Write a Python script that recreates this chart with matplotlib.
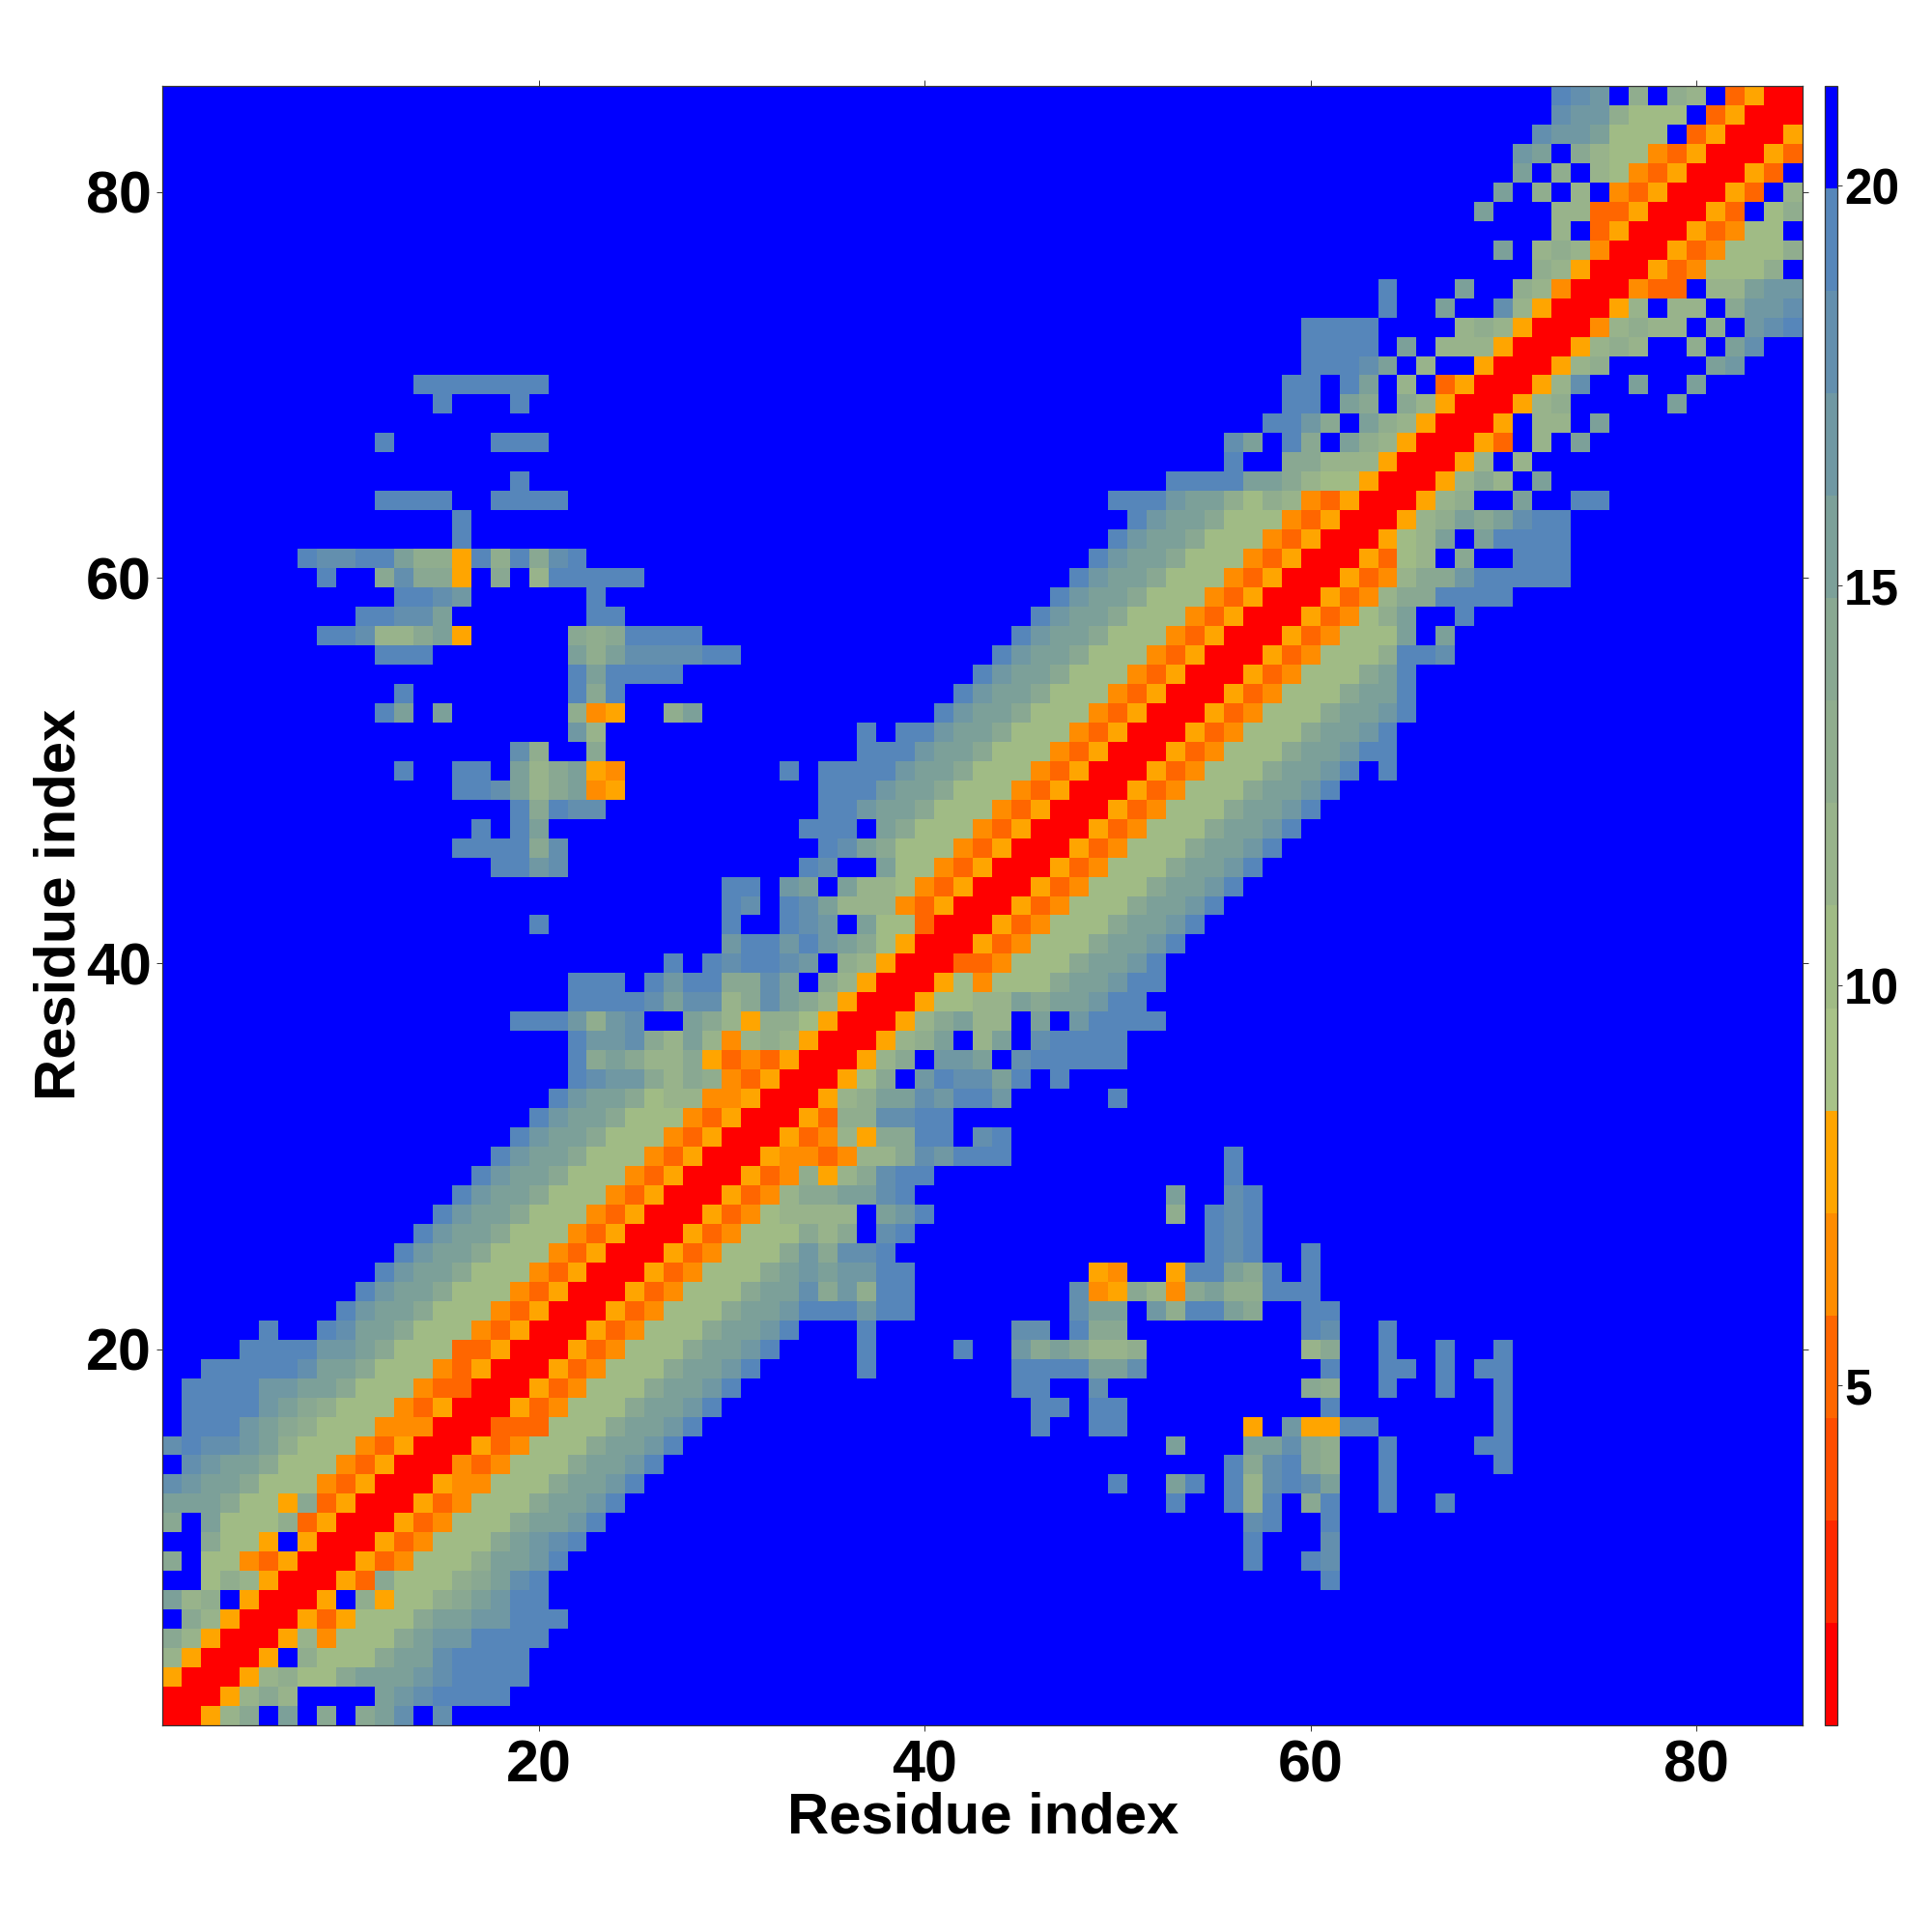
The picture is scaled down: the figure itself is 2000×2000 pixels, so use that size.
import numpy as np
import matplotlib
matplotlib.use("Agg")
import matplotlib.pyplot as plt
from matplotlib.colors import ListedColormap, BoundaryNorm

# Distance-class codes: hex digit = colour class, F = beyond 20 (blue)
generic = "00534777ABBCE"
band_rows = [
    "0058AFBFAFABDFD", "0058A8FFFFBCDEEEE", "0058977ABBBCDEEEE", "005F9777ABBDEEEE",
    "00584777ABCCEEEE", "00535777ABBCCEEE", "005F95779ABCEE", "0053A7779ABDE",
    "005347779BBCE", "00534777ABCDE", generic, generic,
    "00544777ABBCE", "00434777ABBCE", generic, "00333777ABBCE",
    generic, generic, generic, generic,
    "00534777ABBCEFFFE", "00534777ABBCEEECEE", "00534777ABBDAC9EE", "00534777ABCBCCEE",
    "00534777ACADDE", "00534777A8AFDE", "0053478888FBCE", "005348AABBDE",
    "00534958ADEE", "005443488ADCEEE", "0053485AAEEFDE", "005399DDEE",
    "00589BBDCEECFFFFFE", "0057AFCEDDBEFE", "0058AFCCBFDEEEEE", "00589BF8BFDEEEE",
    "0058AB88FBFCEEEE", "0057788BABBCEE", "00574777ABBCEE", "00334777ABBCE",
    generic, generic, generic, generic, generic, generic, generic, generic, generic,
    "00534777ABBCEFE", "00534777ABBCEE", generic, generic,
    "00534777ABBE", "00534777ABE", "005347779EED", "00534777BFB", "0053479BFFE",
    "005348AAEEEE", "005348AACEEEEE", "005378FAFFEEE", "00578BFBEEEE",
    "00589BABDEE", "00589FFBFFEE", "0058A8FB", "0058F8", "0053F8FB", "005F88FB",
    "00589FFFFFB", "0058DFFBFFB", "00589FFFFFBC", "005898FF9FBD", "0048988F9FCDE",
    "0058F88FACCD", "00433F88BCC", "005347779F", "005347779", "0053477F", "0053F79",
    "0053F8", "0053F", "0053", "005", "00", "0",
]
# Off-diagonal islands: (row, first column, codes)
islands = [
    (8, 61, "E"), (9, 57, "E"), (9, 60, "ED"), (10, 57, "E"), (10, 61, "D"),
    (11, 57, "DE"), (11, 61, "E"),
    (12, 53, "E"), (12, 56, "E8E"), (12, 60, "AE"), (12, 64, "E"), (12, 67, "E"),
    (13, 50, "E"), (13, 53, "BE"), (13, 56, "E8DEDB"), (13, 64, "E"),
    (14, 56, "EADEA9"), (14, 64, "E"), (14, 70, "E"),
    (15, 53, "B"), (15, 57, "BBDA9"), (15, 64, "E"), (15, 69, "EE"),
    (16, 46, "E"), (16, 49, "EE"), (16, 57, "5"), (16, 59, "C55EE"), (16, 70, "E"),
    (17, 46, "EE"), (17, 49, "EE"), (17, 61, "E"), (17, 70, "E"),
    (18, 45, "EE"), (18, 49, "D"), (18, 60, "A9"), (18, 64, "E"), (18, 67, "E"), (18, 70, "E"),
    (19, 37, "E"), (19, 45, "EEEEBBD"), (19, 61, "E"), (19, 64, "EE"), (19, 67, "E"), (19, 69, "EE"),
    (20, 37, "E"), (20, 42, "E"), (20, 45, "CABA889"), (20, 60, "8A"), (20, 64, "E"), (20, 67, "E"), (20, 70, "E"),
    (21, 45, "DD"), (21, 48, "EAA"), (21, 60, "ED"), (21, 64, "E"),
    (22, 48, "DBB"), (22, 52, "C9EEBA"), (22, 60, "EE"),
    (23, 48, "D45A84AB99EEE"),
    (24, 49, "54"), (24, 53, "5EEBAE"), (24, 60, "E"),
    (25, 55, "EDE"), (25, 60, "E"), (26, 55, "EDE"),
    (27, 53, "9"), (27, 55, "EDE"), (28, 53, "B"), (28, 56, "DE"),
    (29, 56, "E"), (30, 56, "E"),
]
n_res = 85
tick_vals = [20, 40, 60, 80]
cbar_ticks = [5, 10, 15, 20]
axis_label = "Residue index"
level_edges = np.linspace(0.75, 21.25, 17)
level_colors = ["#ff0000", "#ff2a00", "#ff4d00", "#ff6600", "#ff8c00", "#ffa500",
                "#a8c288", "#a0bb85", "#98b38b", "#90ad8e", "#89a892", "#7ca099",
                "#7098a3", "#638fae", "#5686ba", "#0000ff"]

codes = np.full((n_res, n_res), 15, dtype=int)
for r, s in enumerate(band_rows):
    for k, ch in enumerate(s):
        codes[r, r + k] = codes[r + k, r] = int(ch, 16)
for r, c0, s in islands:
    for k, ch in enumerate(s):
        codes[r - 1, c0 - 1 + k] = codes[c0 - 1 + k, r - 1] = int(ch, 16)
dist = level_edges[codes] + 0.64

plt.rcParams["font.family"] = ["Liberation Sans", "DejaVu Sans"]
plt.rcParams["font.weight"] = "bold"
W = 2000.0
fig = plt.figure(figsize=(20, 20), dpi=100, facecolor="white")
ax = fig.add_axes([168 / W, 214 / W, 1698 / W, 1697 / W])
cmap = ListedColormap(level_colors)
norm = BoundaryNorm(level_edges, cmap.N)
edges = np.arange(0.5, n_res + 1)
mesh = ax.pcolormesh(edges, edges, dist, cmap=cmap, norm=norm, linewidth=0, rasterized=True)
ax.set_xlim(0.5, 85.5)
ax.set_ylim(0.5, 85.5)
ax.set_xticks(tick_vals)
ax.set_yticks(tick_vals)
ax.tick_params(axis="both", which="major", top=True, right=True, direction="out",
               length=4.5, width=0.7, color="#333333", labelsize=44)
ax.tick_params(axis="x", pad=6)
ax.tick_params(axis="y", pad=3.5)
for sp in ax.spines.values():
    sp.set_linewidth(0.9)
    sp.set_color("#333333")
for lab in ax.get_xticklabels() + ax.get_yticklabels():
    lab.set_fontweight("bold")
fig.text(1018 / W, 1 - 1882 / W, axis_label, fontsize=43, fontweight="bold", ha="center", va="center")
fig.text(62 / W, 1 - 936 / W, axis_label, fontsize=43, fontweight="bold", ha="center", va="center", rotation=90)

cax = fig.add_axes([1889 / W, 214 / W, 13 / W, 1697 / W])
cb = fig.colorbar(mesh, cax=cax, ticks=cbar_ticks, spacing="proportional", drawedges=False)
cb.ax.tick_params(length=3.5, width=0.7, color="#333333", labelsize=37, pad=1.5)
cb.ax.minorticks_off()
cb.outline.set_linewidth(0.9)
cb.outline.set_edgecolor("#333333")
for lab in cb.ax.get_yticklabels():
    lab.set_fontweight("bold")
fig.savefig("out.png", dpi=100, facecolor="white")
